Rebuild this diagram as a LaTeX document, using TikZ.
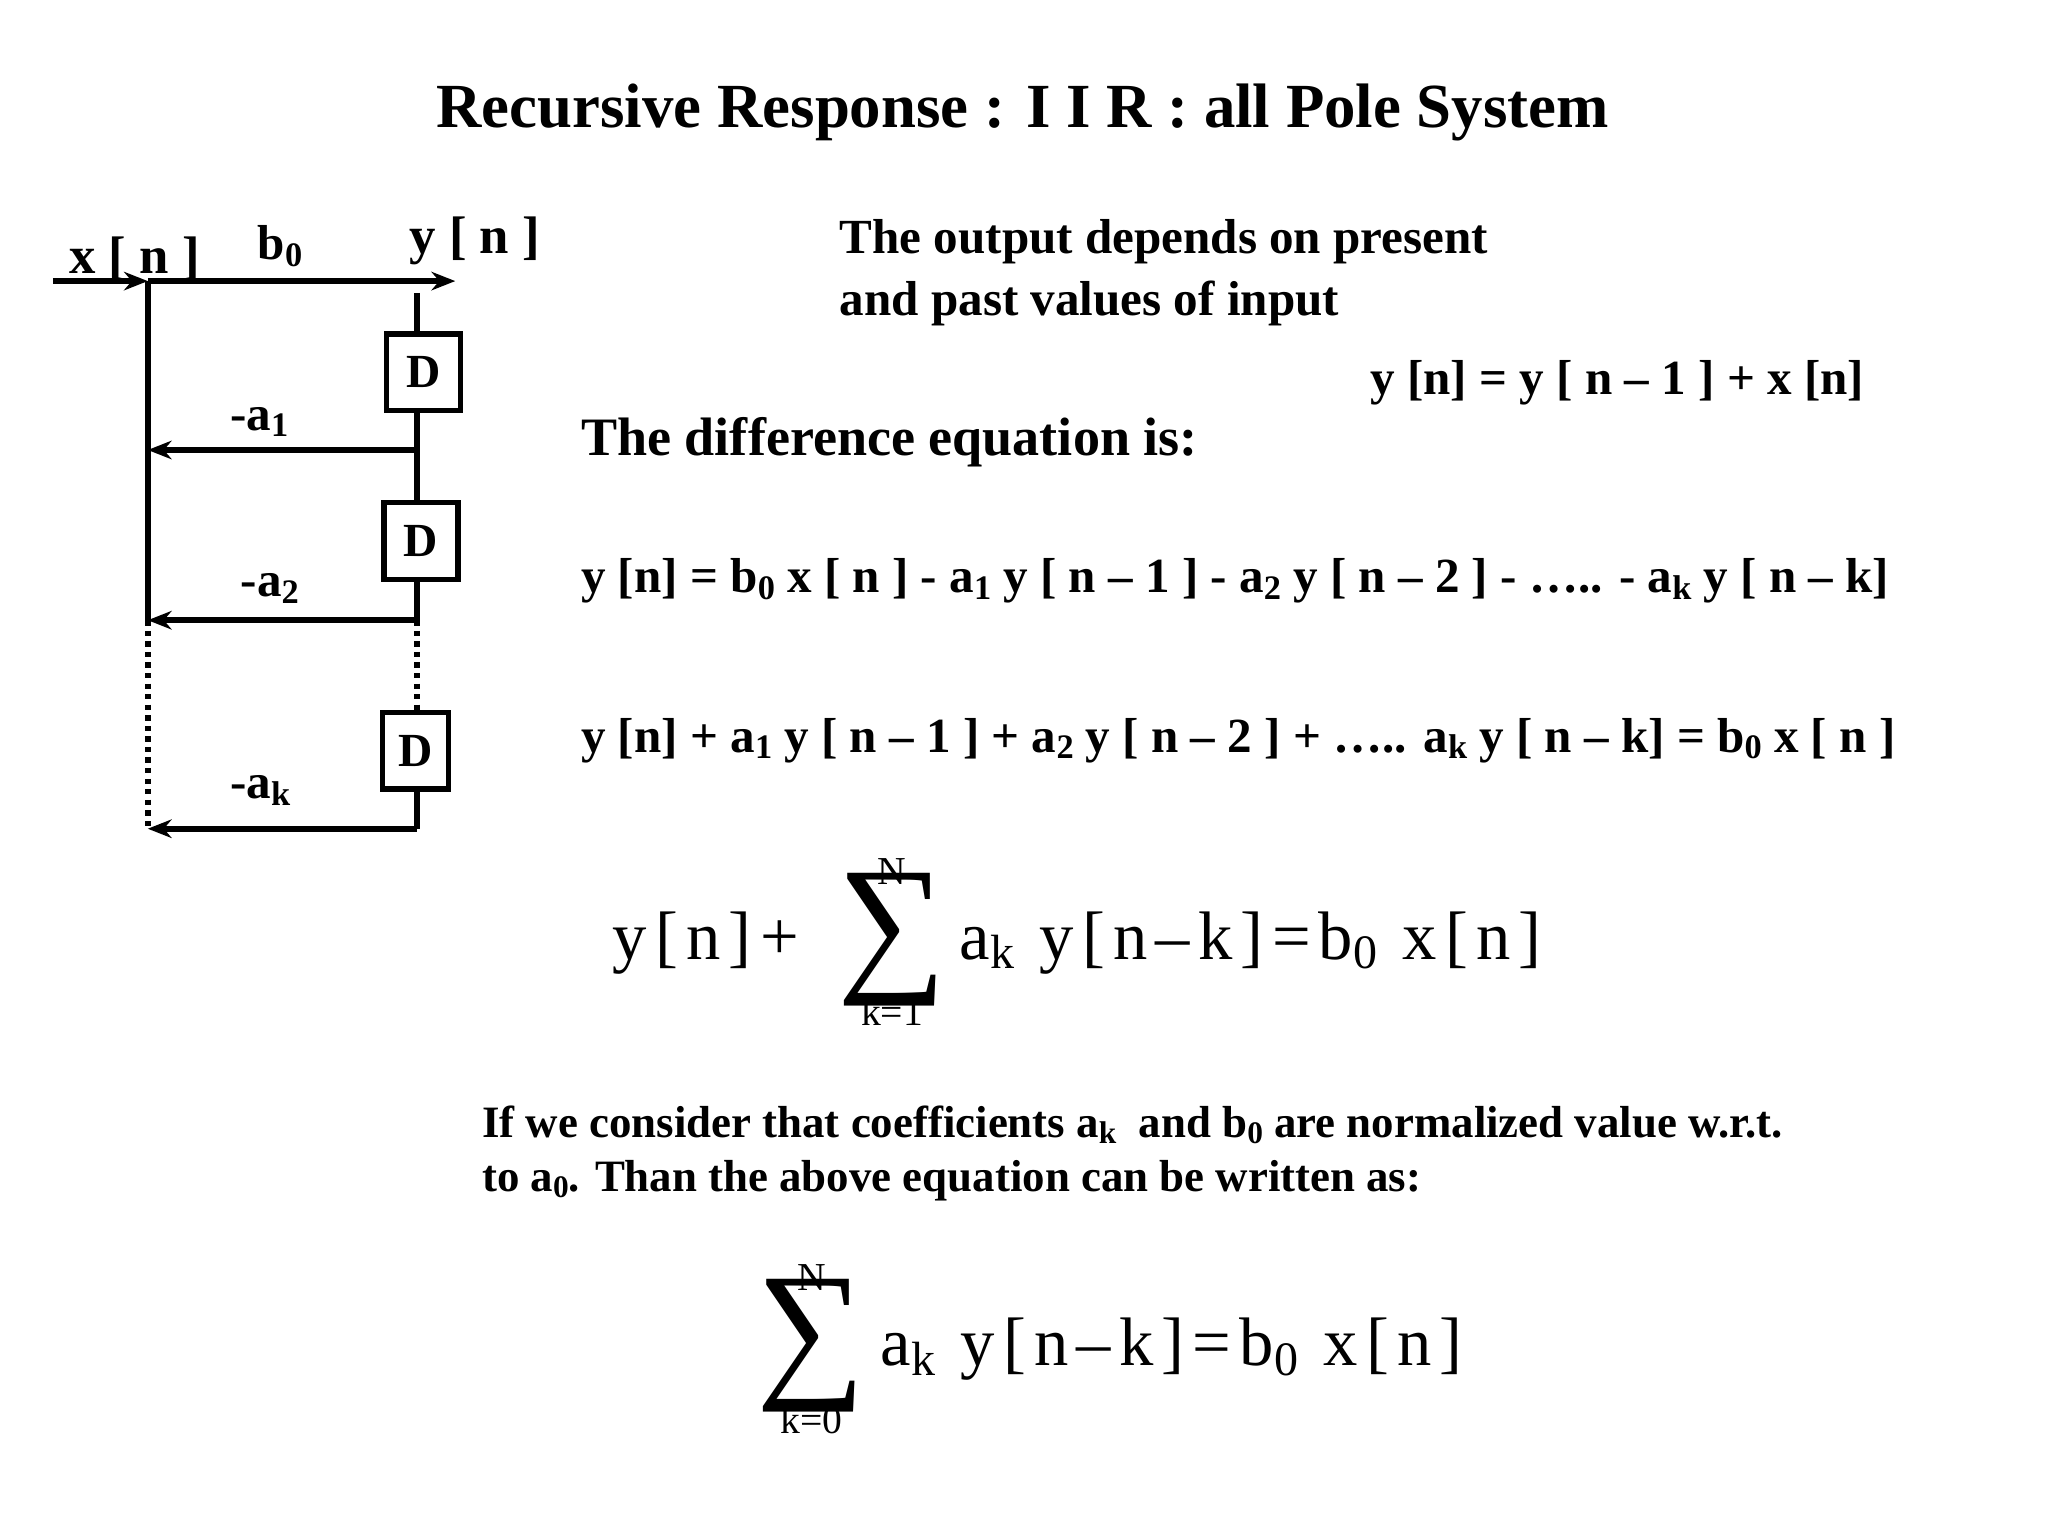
\documentclass[tikz,border=0pt]{standalone}
\usepackage{fontspec}
\setmainfont{Liberation Serif}
\usetikzlibrary{arrows.meta}
\newcommand{\lowsub}[1]{\raisebox{-0.3ex}{\fontsize{0.7em}{0.7em}\selectfont #1}}
\begin{document}
\begin{tikzpicture}[x=0.5pt,y=-0.5pt,
  wire/.style={line width=2.2pt},
  dots/.style={line width=2.2pt,dash pattern=on 2pt off 2pt},
  arr/.style={wire,-{Stealth[length=9pt,width=7pt]}},
  dbox/.style={draw,line width=2pt,minimum width=28pt,minimum height=29pt,inner sep=0pt,font=\bfseries\fontsize{18}{18}\selectfont},
  lab/.style={font=\bfseries\fontsize{18.6}{20}\selectfont,inner sep=0pt},
  big/.style={font=\fontsize{26}{26}\selectfont\addfontfeature{LetterSpace=12},inner sep=0pt},
  sig/.style={font=\fontsize{58}{58}\selectfont,inner sep=0pt},
  small/.style={font=\fontsize{15}{15}\selectfont,inner sep=0pt}]
\useasboundingbox (0,0) rectangle (1552,1164);
\node[font=\bfseries\fontsize{23.8}{23.8}\selectfont] (title) at (775,85) {Recursive Response : I I R : all Pole System};
% diagram
\coordinate (in) at (40,213);
\coordinate (j0) at (112,213);
\coordinate (out) at (345,213);
\coordinate (j1) at (112,341);
\coordinate (j2) at (112,470);
\coordinate (j3) at (112,628);
\coordinate (t0) at (316,222);
\coordinate (r1) at (316,341);
\coordinate (r2) at (316,470);
\coordinate (r3) at (316,628);
\node[dbox] (d1) at (321,282) {D};
\node[dbox] (d2) at (319,410) {D};
\node[dbox,minimum width=25pt] (d3) at (315,569) {D};
\draw[arr] (in) -- (j0);
\draw[arr] (j0) -- (out);
\draw[wire] (j0) -- (j2);
\draw[dots] (j2) -- (j3);
\draw[wire] (t0) -- (t0|-d1.north);
\draw[wire] (r1|-d1.south) -- (r1|-d2.north);
\draw[wire] (r2|-d2.south) -- (r2);
\draw[dots] (r2) -- (r2|-d3.north);
\draw[wire] (r3|-d3.south) -- (r3);
\draw[arr] (r1) -- (j1);
\draw[arr] (r2) -- (j2);
\draw[arr] (r3) -- (j3);
\node[lab,anchor=base west,font=\bfseries\fontsize{20}{20}\selectfont] (xn) at (52,207) {x [ n ]};
\node[lab,anchor=base west] (b0) at (195,197) {b\lowsub{0}};
\node[lab,anchor=base west,font=\bfseries\fontsize{20}{20}\selectfont] (yn) at (310,192) {y [ n ]};
\node[lab,anchor=base west] (a1) at (174,326) {-a\lowsub{1}};
\node[lab,anchor=base west] (a2) at (182,452) {-a\lowsub{2}};
\node[lab,anchor=base west] (ak) at (174,605) {-a\lowsub{k}};
% text
\node[lab,anchor=base west] (t1) at (636,192) {The output depends on present};
\node[lab,anchor=base west] (t2) at (636,239) {and past values of input};
\node[lab,anchor=base east] (t3) at (1413,299) {y [n] = y [ n – 1 ] + x [n]};
\node[lab,anchor=base west,font=\bfseries\fontsize{20.5}{20}\selectfont] (t4) at (440,345) {The difference equation is:};
\node[lab,anchor=base west] (e1) at (440,449) {y [n] = b\lowsub{0} x [ n ] - a\lowsub{1} y [ n – 1 ] - a\lowsub{2} y [ n – 2 ] - ….. - a\lowsub{k} y [ n – k]};
\node[lab,anchor=base west] (e2) at (440,570) {y [n] + a\lowsub{1} y [ n – 1 ] + a\lowsub{2} y [ n – 2 ] + ….. a\lowsub{k} y [ n – k] = b\lowsub{0} x [ n ]};
% sum 1
\node[big,anchor=base west] (s1a) at (464,727) {y[n]+};
\node[sig] (s1s) at (676,712) {∑};
\node[small,anchor=base] (s1n) at (676,670) {N};
\node[small,anchor=base] (s1k) at (676,777) {k=1};
\node[big,anchor=base west] (s1b) at (727,727) {a\lowsub{k}~y[n–k]=b\lowsub{0}~x[n]};
% paragraph
\node[anchor=base west,inner sep=0pt,font=\bfseries\fontsize{17}{17}\selectfont] (p1) at (365,862) {If we consider that coefficients a\lowsub{k}~ and b\lowsub{0} are normalized value w.r.t.};
\node[anchor=base west,inner sep=0pt,font=\bfseries\fontsize{17}{17}\selectfont] (p2) at (365,903) {to a\lowsub{0}. Than the above equation can be written as:};
% sum 2
\node[sig] (s2s) at (615,1020) {∑};
\node[small,anchor=base] (s2n) at (615,978) {N};
\node[small,anchor=base] (s2k) at (615,1086) {k=0};
\node[big,anchor=base west] (s2b) at (667,1035) {a\lowsub{k}~y[n–k]=b\lowsub{0}~x[n]};
\end{tikzpicture}
\end{document}
